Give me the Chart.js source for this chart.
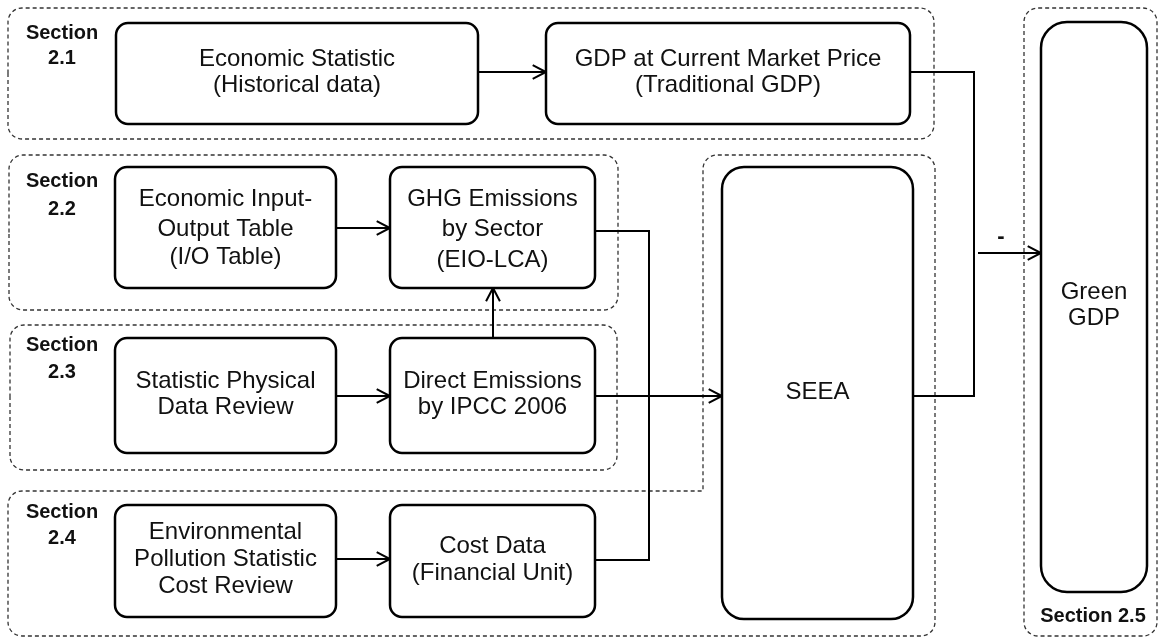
<!DOCTYPE html>
<html>
<head>
<meta charset="utf-8">
<title>Green GDP framework</title>
<script src="https://cdn.jsdelivr.net/npm/chart.js@4.4.1/dist/chart.umd.min.js"></script>
<style>
  html, body { margin: 0; padding: 0; background: #fff; }
  #flow { display: block; }
</style>
</head>
<body>
<canvas id="flow" width="1162" height="637"></canvas>
<script>
// nodes of the diagram (text shown in each box)
const nodeText = [
  ['Economic Statistic', '(Historical data)'],
  ['GDP at Current Market Price', '(Traditional GDP)'],
  ['Economic Input-', 'Output Table', '(I/O Table)'],
  ['GHG Emissions', 'by Sector', '(EIO-LCA)'],
  ['Statistic Physical', 'Data Review'],
  ['Direct Emissions', 'by IPCC 2006'],
  ['Environmental', 'Pollution Statistic', 'Cost Review'],
  ['Cost Data', '(Financial Unit)'],
  ['SEEA'],
  ['Green', 'GDP']
];
// section labels
const sectionText = [
  ['Section', '2.1'],
  ['Section', '2.2'],
  ['Section', '2.3'],
  ['Section', '2.4'],
  ['Section 2.5']
];
// links between nodes: [from, to, arrow?]
const links = [
  [0, 1, true], [2, 3, true], [4, 5, true], [5, 3, true],
  [6, 7, true], [5, 8, true], [3, 7, false], [1, 8, false]
];
const minusLabel = '-';

// layout, in diagram units (x0, y0, x1, y1)
const nodeBox = [
  [116, 23, 478, 124], [546, 23, 910, 124],
  [115, 167, 336, 288], [390, 167, 595, 288],
  [115, 338, 336, 453], [390, 338, 595, 453],
  [115, 505, 336, 617], [390, 505, 595, 617],
  [722, 167, 913, 619], [1041, 22, 1147, 592]
];
const nodeLineY = [
  [59, 85], [59, 85],
  [199, 229, 257], [199, 229, 260],
  [381, 407], [381, 407],
  [532, 559, 586], [546, 573],
  [392], [292, 318]
];
const nodeRadius = [12, 12, 12, 12, 12, 12, 12, 12, 22, 26];
const sectionLabelPos = [[62, [33, 58]], [62, [181, 209]], [62, [345, 372]], [62, [512, 538]], [1093, [616]]];
// dashed section outlines as point lists (rounded corners where r > 0)
const sectionOutline = [
  [[8, 8, 14], [934, 8, 14], [934, 139, 14], [8, 139, 14]],
  [[9, 155, 14], [618, 155, 14], [618, 310, 14], [9, 310, 14]],
  [[10, 325, 14], [617, 325, 14], [617, 470, 14], [10, 470, 14]],
  [[8, 491, 14], [703, 491, 0], [703, 155, 14], [935, 155, 14], [935, 636, 14], [8, 636, 14]],
  [[1024, 8, 14], [1157, 8, 14], [1157, 636, 14], [1024, 636, 14]]
];
// link routes (polylines)
const linkRoute = [
  [[478, 72], [546, 72]],
  [[336, 228], [390, 228]],
  [[336, 396], [390, 396]],
  [[493, 338], [493, 288]],
  [[336, 559], [390, 559]],
  [[595, 396], [722, 396]],
  [[595, 231], [649, 231], [649, 560], [595, 560]],
  [[910, 72], [974, 72], [974, 396], [913, 396]]
];
const greenRoute = [[978, 253], [1041, 253]];
const minusPos = [1001, 237];

function roundPoly(ctx, pts) {
  const n = pts.length;
  const mid = (a, b) => [(a[0] + b[0]) / 2, (a[1] + b[1]) / 2];
  const start = mid(pts[n - 1], pts[0]);
  ctx.beginPath();
  ctx.moveTo(start[0], start[1]);
  for (let i = 0; i < n; i++) {
    const p = pts[i], q = pts[(i + 1) % n];
    const r = p[2];
    if (r > 0) ctx.arcTo(p[0], p[1], q[0], q[1], r);
    else ctx.lineTo(p[0], p[1]);
  }
  ctx.closePath();
}

const flowPlugin = {
  id: 'flow',
  afterDraw(chart) {
    const ctx = chart.ctx;
    const sx = v => chart.scales.x.getPixelForValue(v);
    const sy = v => chart.scales.y.getPixelForValue(v);
    const P = p => [sx(p[0]), sy(p[1]), p[2] || 0];

    ctx.save();
    // section outlines
    ctx.setLineDash([4, 3]);
    ctx.strokeStyle = '#333';
    ctx.lineWidth = 1.3;
    sectionOutline.forEach(o => {
      roundPoly(ctx, o.map(P));
      ctx.stroke();
    });
    ctx.setLineDash([]);

    // section labels
    ctx.fillStyle = '#111';
    ctx.font = 'bold 20px "Liberation Sans", Arial, sans-serif';
    ctx.textAlign = 'center';
    ctx.textBaseline = 'middle';
    sectionText.forEach((lines, i) => {
      const [x, ys] = sectionLabelPos[i];
      lines.forEach((t, j) => ctx.fillText(t, sx(x), sy(ys[j])));
    });

    // links
    ctx.strokeStyle = '#000';
    ctx.lineWidth = 2;
    const drawRoute = (route, arrow) => {
      const pts = route.map(P);
      ctx.beginPath();
      ctx.moveTo(pts[0][0], pts[0][1]);
      for (let k = 1; k < pts.length; k++) ctx.lineTo(pts[k][0], pts[k][1]);
      ctx.stroke();
      if (arrow) {
        const a = pts[pts.length - 2], b = pts[pts.length - 1];
        const ang = Math.atan2(b[1] - a[1], b[0] - a[0]);
        const L = 15, W = 0.48;
        ctx.beginPath();
        ctx.moveTo(b[0] - L * Math.cos(ang - W), b[1] - L * Math.sin(ang - W));
        ctx.lineTo(b[0], b[1]);
        ctx.lineTo(b[0] - L * Math.cos(ang + W), b[1] - L * Math.sin(ang + W));
        ctx.stroke();
      }
    };
    links.forEach((l, i) => drawRoute(linkRoute[i], l[2]));
    drawRoute(greenRoute, true);

    // boxes
    ctx.lineWidth = 2.5;
    nodeText.forEach((lines, i) => {
      const [x0, y0, x1, y1] = nodeBox[i];
      const r = nodeRadius[i];
      roundPoly(ctx, [[x0, y0, r], [x1, y0, r], [x1, y1, r], [x0, y1, r]].map(P));
      ctx.fillStyle = '#fff';
      ctx.fill();
      ctx.strokeStyle = '#000';
      ctx.stroke();
      ctx.fillStyle = '#111';
      ctx.font = '24px "Liberation Sans", Arial, sans-serif';
      const cx = sx((x0 + x1) / 2);
      lines.forEach((t, j) => ctx.fillText(t, cx, sy(nodeLineY[i][j])));
    });

    // minus sign for the Green GDP link
    ctx.font = 'bold 22px "Liberation Sans", Arial, sans-serif';
    ctx.fillText(minusLabel, sx(minusPos[0]), sy(minusPos[1]));
    ctx.restore();
  }
};

new Chart(document.getElementById('flow'), {
  type: 'scatter',
  data: { datasets: [{ data: [], pointRadius: 0 }] },
  options: {
    responsive: false,
    animation: false,
    devicePixelRatio: 1,
    layout: { padding: 0 },
    plugins: { legend: { display: false }, tooltip: { enabled: false } },
    scales: {
      x: { type: 'linear', min: 0, max: 1162, display: false },
      y: { type: 'linear', min: 0, max: 637, reverse: true, display: false }
    }
  },
  plugins: [flowPlugin]
});
</script>
</body>
</html>
